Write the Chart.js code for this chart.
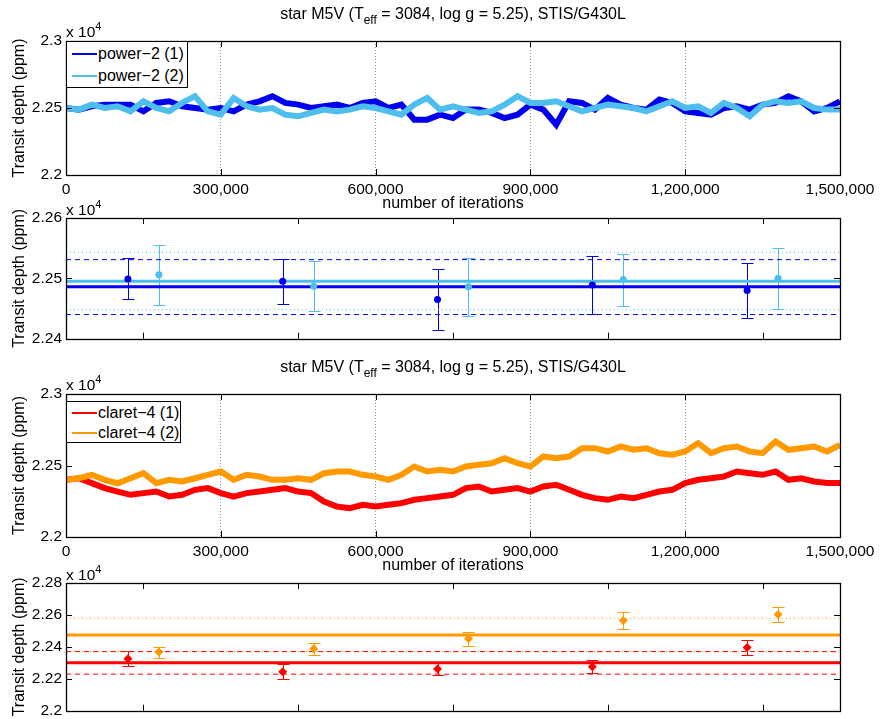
<!DOCTYPE html>
<html>
<head>
<meta charset="utf-8">
<script src="https://cdn.jsdelivr.net/npm/chart.js@4.4.0/dist/chart.umd.min.js"></script>
<style>
  body{margin:0;background:#fff;font-family:"Liberation Sans",Arial,sans-serif;}
  #wrap{position:relative;width:880px;height:719px;overflow:hidden;}
  .pane{position:absolute;left:0;width:880px;}
  .txt{position:absolute;color:#000;white-space:nowrap;z-index:5;}
  .ttl{font-size:16px;line-height:18px;transform:translateX(-50%);}
  .ttl sub{font-size:12px;vertical-align:-5px;line-height:0;}
  .mult{font-size:15.5px;line-height:18px;}
  .mult sup{font-size:11px;vertical-align:7px;line-height:0;}
  .leg{position:absolute;left:66px;border:1px solid #000;background:#fff;box-sizing:border-box;z-index:4;}
  .row{position:absolute;left:0;font-size:16px;line-height:18px;}
  .row i{position:absolute;left:5px;top:8px;width:25px;height:2px;}
  .row span{position:absolute;left:31px;top:0;white-space:nowrap;}
</style>
</head>
<body>
<div id="wrap">
  <div class="txt ttl" style="left:453px;top:5px">star M5V (T<sub>eff</sub> = 3084, log g = 5.25), STIS/G430L</div>
  <div class="txt mult" style="left:66px;top:23px">x 10<sup>4</sup></div>
  <div class="leg" style="top:41px;width:122px;height:47px">
    <div class="row" style="top:3px"><i style="background:#0000ee"></i><span>power−2 (1)</span></div>
    <div class="row" style="top:25px"><i style="background:#4dbeee"></i><span>power−2 (2)</span></div>
  </div>
  <div class="pane" style="top:25px;height:188px"><canvas id="c1"></canvas></div>

  <div class="txt mult" style="left:66px;top:201px">x 10<sup>4</sup></div>
  <div class="pane" style="top:203px;height:149px"><canvas id="c2"></canvas></div>

  <div class="txt ttl" style="left:453px;top:358px">star M5V (T<sub>eff</sub> = 3084, log g = 5.25), STIS/G430L</div>
  <div class="txt mult" style="left:66px;top:376px">x 10<sup>4</sup></div>
  <div class="leg" style="top:401px;width:115px;height:42px">
    <div class="row" style="top:2px"><i style="background:#ff0000"></i><span>claret−4 (1)</span></div>
    <div class="row" style="top:22px"><i style="background:#ff9900"></i><span>claret−4 (2)</span></div>
  </div>
  <div class="pane" style="top:378px;height:197px"><canvas id="c3"></canvas></div>

  <div class="txt mult" style="left:66px;top:566px">x 10<sup>4</sup></div>
  <div class="pane" style="top:567px;height:157px"><canvas id="c4"></canvas></div>
</div>
<script>
// iterations, in thousands
const ITER_K = [0,25,50,75,100,125,150,175,200,225,250,275,300,325,350,375,400,425,450,475,
  500,525,550,575,600,625,650,675,700,725,750,775,800,825,850,875,900,925,950,975,
  1000,1025,1050,1075,1100,1125,1150,1175,1200,1225,1250,1275,1300,1325,1350,1375,1400,1425,1450,1475,1500];

// transit depth traces (ppm)
const POWER2_1 = [22500,22488,22513,22525,22525,22525,22475,22538,22550,22513,
  22500,22488,22500,22475,22525,22550,22588,22538,22525,22500,
  22513,22525,22500,22538,22550,22500,22525,22413,22413,22450,
  22425,22488,22488,22463,22425,22450,22525,22488,22375,22550,
  22538,22488,22575,22525,22500,22488,22563,22538,22475,22463,
  22450,22500,22513,22488,22525,22538,22588,22550,22475,22500,22550];
const POWER2_2 = [22500,22488,22525,22500,22513,22475,22550,22500,22475,22538,
  22588,22475,22450,22575,22513,22488,22500,22450,22438,22463,
  22488,22475,22488,22513,22500,22475,22450,22525,22575,22488,
  22513,22488,22463,22475,22525,22588,22538,22538,22550,22513,
  22475,22500,22525,22513,22500,22475,22513,22550,22500,22513,
  22463,22538,22500,22438,22525,22550,22538,22550,22500,22488,22488];
const CLARET4_1 = [22400,22411,22377,22342,22318,22295,22307,22318,22283,22295,
  22330,22342,22307,22283,22307,22318,22330,22342,22318,22307,
  22248,22213,22202,22225,22213,22225,22237,22260,22272,22283,
  22295,22342,22353,22318,22330,22342,22318,22353,22365,22330,
  22295,22272,22260,22283,22272,22295,22318,22330,22377,22400,
  22411,22423,22458,22446,22435,22458,22400,22411,22388,22377,22377];
const CLARET4_2 = [22400,22411,22435,22400,22376,22411,22446,22376,22400,22388,
  22411,22435,22458,22400,22435,22423,22400,22400,22411,22400,
  22446,22458,22458,22435,22423,22400,22435,22493,22458,22470,
  22458,22493,22505,22516,22551,22516,22493,22563,22551,22563,
  22621,22621,22598,22633,22610,22621,22586,22575,22598,22656,
  22586,22621,22633,22598,22586,22668,22610,22621,22633,22598,22644];

// block estimates
const BLOCKS = [1,2,3,4,5];
const P2_MEAN_1 = [22499,22495,22465,22489,22480];
const P2_ERR_1  = [34,37,50,48,45];
const P2_MEAN_2 = [22506,22487,22486,22498,22500];
const P2_ERR_2  = [50,41,48,43,51];
const P2_AVG_1 = 22486, P2_AVG_2 = 22495;
const P2_BAND_1 = [22440,22531], P2_BAND_2 = [22448,22543];

const C4_MEAN_1 = [22325,22244,22262,22276,22396];
const C4_ERR_1  = [48,47,40,40,48];
const C4_MEAN_2 = [22367,22388,22451,22565,22603];
const C4_ERR_2  = [35,36,45,55,45];
const C4_AVG_1 = 22300, C4_AVG_2 = 22475;
const C4_BAND_1 = [22229,22370], C4_BAND_2 = [22371,22579];

const X_TICKS_K = [0,300,600,900,1200,1500];
const Y_TICKS_TRACE = [22000,22500,23000];
const Y_TICKS_P2 = [22400,22500,22600];
const Y_TICKS_P4 = [22000,22200,22400,22600,22800];

const DARK = '#0000ee', LIGHT = '#4dbeee', RED = '#ff0000', ORANGE = '#ff9900';
const FAM = '"Liberation Sans", Arial, sans-serif';
const TICKFONT = {family:FAM, size:15.5};
const TITLEFONT = {family:FAM, size:16};
const SHIFT = 0.1;

function fmtY(v){ return String(+(v/1e4).toFixed(4)); }
function fmtX(v){ return (v*1000).toLocaleString('en-US'); }

// frame, inward ticks and error bars
const boxPlugin = {
  id:'box',
  beforeDatasetsDraw(chart){
    const o = chart.options.plugins.box || {};
    const {ctx, scales:{x,y}} = chart;
    (o.bars||[]).forEach(b=>{
      ctx.save(); ctx.strokeStyle=b.color; ctx.lineWidth=1;
      ctx.beginPath();
      b.x.forEach((xv,i)=>{
        const px = Math.round(x.getPixelForValue(xv))+.5;
        const hi = Math.round(y.getPixelForValue(b.y[i]+b.err[i]))+.5;
        const lo = Math.round(y.getPixelForValue(b.y[i]-b.err[i]))+.5;
        ctx.moveTo(px,hi); ctx.lineTo(px,lo);
        ctx.moveTo(px-6,hi); ctx.lineTo(px+6,hi);
        ctx.moveTo(px-6,lo); ctx.lineTo(px+6,lo);
      });
      ctx.stroke(); ctx.restore();
    });
  },
  afterDraw(chart){
    const o = chart.options.plugins.box || {};
    const {ctx, chartArea:a, scales:{x,y}} = chart;
    ctx.save(); ctx.strokeStyle='#000'; ctx.lineWidth=1;
    ctx.beginPath();
    (o.xt||[]).forEach(v=>{
      const p = Math.round(x.getPixelForValue(v))+.5;
      ctx.moveTo(p,a.top); ctx.lineTo(p,a.top+6);
      ctx.moveTo(p,a.bottom); ctx.lineTo(p,a.bottom-6);
    });
    (o.yt||[]).forEach(v=>{
      const p = Math.round(y.getPixelForValue(v))+.5;
      ctx.moveTo(a.left,p); ctx.lineTo(a.left+6,p);
      ctx.moveTo(a.right,p); ctx.lineTo(a.right-6,p);
    });
    ctx.stroke();
    ctx.lineWidth=1.3;
    ctx.strokeRect(Math.round(a.left)+.5, Math.round(a.top)+.5, Math.round(a.width), Math.round(a.height));
    ctx.restore();
  }
};

function yScale(min,max,ticks){
  return {
    min, max,
    border:{display:false},
    grid:{display:false, drawTicks:false},
    afterBuildTicks: s=>{ s.ticks = ticks.map(v=>({value:v})); },
    afterFit: s=>{ s.width = 66; },
    ticks:{padding:4, color:'#000', font:TICKFONT, callback:fmtY},
    title:{display:true, text:'Transit depth (ppm)', color:'#000', font:TITLEFONT, padding:{top:9.5,bottom:0}}
  };
}
function xTrace(){
  return {
    type:'linear', min:0, max:1500,
    afterBuildTicks: s=>{ s.ticks = X_TICKS_K.map(v=>({value:v})); },
    afterFit: s=>{ s.height = 38; },
    grid:{color:'#9a9a9a', lineWidth:1, drawTicks:false},
    border:{display:false, dash:[1,2]},
    ticks:{padding:5, color:'#000', font:TICKFONT, maxRotation:0, autoSkip:false, callback:fmtX},
    title:{display:true, text:'number of iterations', color:'#000', font:TITLEFONT, padding:{top:0,bottom:0}}
  };
}
function xBlocks(){
  return {type:'linear', min:0.5, max:5.5, display:false};
}
function trace(vals,color){
  return {data:ITER_K.map((x,i)=>({x, y:vals[i]})), borderColor:color, borderWidth:6,
    pointRadius:0, showLine:true, tension:0, borderJoinStyle:'miter'};
}
function hline(v,color,width,dash){
  return {data:[{x:0.5,y:v},{x:5.5,y:v}], borderColor:color, borderWidth:width, borderDash:dash,
    pointRadius:0, showLine:true};
}
function pts(means,shift,color,style,r){
  return {data:BLOCKS.map((b,i)=>({x:b+shift, y:means[i]})), backgroundColor:color, borderColor:color,
    borderWidth:0, pointStyle:style, pointRadius:r, showLine:false};
}
function baseOpts(pad, scales, box){
  return {
    responsive:true, maintainAspectRatio:false, animation:false,
    layout:{padding:pad},
    plugins:{legend:{display:false}, tooltip:{enabled:false}, box},
    scales
  };
}

new Chart(document.getElementById('c1'), {
  type:'scatter',
  data:{datasets:[trace(POWER2_2,LIGHT), trace(POWER2_1,DARK)]},
  options:baseOpts({top:16,right:40,bottom:0,left:0},
    {x:xTrace(), y:yScale(22000,23000,Y_TICKS_TRACE)},
    {xt:X_TICKS_K, yt:Y_TICKS_TRACE}),
  plugins:[boxPlugin]
});

new Chart(document.getElementById('c2'), {
  type:'scatter',
  data:{datasets:[
    pts(P2_MEAN_1,-SHIFT,DARK,'circle',3.5),
    pts(P2_MEAN_2,SHIFT,LIGHT,'circle',3.5),
    hline(P2_AVG_1,DARK,3,[]),
    hline(P2_AVG_2,LIGHT,3,[]),
    hline(P2_BAND_1[0],DARK,1,[5,4]), hline(P2_BAND_1[1],DARK,1,[5,4]),
    hline(P2_BAND_2[0],LIGHT,1,[1,3]), hline(P2_BAND_2[1],LIGHT,1,[1,3])
  ]},
  options:baseOpts({top:15,right:40,bottom:10,left:0},
    {x:xBlocks(), y:yScale(22400,22600,Y_TICKS_P2)},
    {xt:BLOCKS, yt:Y_TICKS_P2, bars:[
      {x:BLOCKS.map(b=>b-SHIFT), y:P2_MEAN_1, err:P2_ERR_1, color:DARK},
      {x:BLOCKS.map(b=>b+SHIFT), y:P2_MEAN_2, err:P2_ERR_2, color:LIGHT}]}),
  plugins:[boxPlugin]
});

new Chart(document.getElementById('c3'), {
  type:'scatter',
  data:{datasets:[trace(CLARET4_2,ORANGE), trace(CLARET4_1,RED)]},
  options:baseOpts({top:16,right:40,bottom:0,left:0},
    {x:xTrace(), y:yScale(22000,23000,Y_TICKS_TRACE)},
    {xt:X_TICKS_K, yt:Y_TICKS_TRACE}),
  plugins:[boxPlugin]
});

new Chart(document.getElementById('c4'), {
  type:'scatter',
  data:{datasets:[
    pts(C4_MEAN_1,-SHIFT,RED,'rectRot',4.5),
    pts(C4_MEAN_2,SHIFT,ORANGE,'rectRot',4.5),
    hline(C4_AVG_1,RED,3,[]),
    hline(C4_AVG_2,ORANGE,3,[]),
    hline(C4_BAND_1[0],RED,1,[5,4]), hline(C4_BAND_1[1],RED,1,[5,4]),
    hline(C4_BAND_2[0],ORANGE,1,[1,3]), hline(C4_BAND_2[1],ORANGE,1,[1,3])
  ]},
  options:baseOpts({top:16,right:40,bottom:10,left:0},
    {x:xBlocks(), y:yScale(22000,22800,Y_TICKS_P4)},
    {xt:BLOCKS, yt:Y_TICKS_P4, bars:[
      {x:BLOCKS.map(b=>b-SHIFT), y:C4_MEAN_1, err:C4_ERR_1, color:RED},
      {x:BLOCKS.map(b=>b+SHIFT), y:C4_MEAN_2, err:C4_ERR_2, color:ORANGE}]}),
  plugins:[boxPlugin]
});
</script>
</body>
</html>
